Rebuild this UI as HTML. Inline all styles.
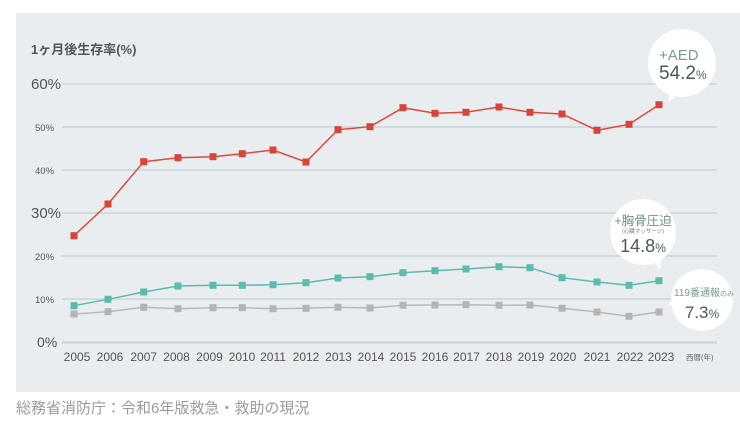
<!DOCTYPE html>
<html><head><meta charset="utf-8"><style>
html,body{margin:0;padding:0;background:#fff;}
svg{display:block;}
text{font-family:"Liberation Sans","Noto Sans CJK JP",sans-serif;}
</style></head><body>
<svg width="740" height="430" viewBox="0 0 740 430" xmlns="http://www.w3.org/2000/svg">
<rect x="16" y="13" width="724" height="379" fill="#e9edef"/>
<g stroke="#cfdcdf" stroke-width="2">
<line x1="62" y1="84" x2="717" y2="84"/>
<line x1="62" y1="127" x2="717" y2="127"/>
<line x1="62" y1="170" x2="717" y2="170"/>
<line x1="62" y1="213" x2="717" y2="213"/>
<line x1="62" y1="256" x2="717" y2="256"/>
<line x1="62" y1="299" x2="717" y2="299"/>
</g>
<line x1="62" y1="342.5" x2="717" y2="342.5" stroke="#bfd3d3" stroke-width="2"/>
<text x="31" y="54" font-size="13" fill="#555" font-weight="bold">1ヶ月後生存率(%)</text>
<g fill="#555">
<text x="31" y="89" font-size="15">60%</text>
<text x="35" y="131" font-size="9.5" transform="translate(0,0)">50%</text>
<text x="35" y="174" font-size="9.5">40%</text>
<text x="31" y="218" font-size="15">30%</text>
<text x="35" y="260" font-size="9.5">20%</text>
<text x="35" y="303" font-size="9.5">10%</text>
<text x="37" y="347" font-size="14">0%</text>
</g>
<g font-size="12" fill="#555" text-anchor="middle">
<text x="77" y="361">2005</text><text x="110" y="361">2006</text><text x="143.7" y="361">2007</text>
<text x="176.5" y="361">2008</text><text x="209.5" y="361">2009</text><text x="242" y="361">2010</text>
<text x="273" y="361">2011</text><text x="306" y="361">2012</text><text x="338.5" y="361">2013</text>
<text x="371" y="361">2014</text><text x="403" y="361">2015</text><text x="435" y="361">2016</text>
<text x="466.5" y="361">2017</text><text x="499" y="361">2018</text><text x="531" y="361">2019</text>
<text x="563" y="361">2020</text><text x="597" y="361">2021</text><text x="630" y="361">2022</text>
<text x="661" y="361">2023</text>
</g>
<text x="686" y="360" font-size="7.5" fill="#666">西暦(年)</text>

<!-- gray series -->
<polyline fill="none" stroke="#b9b9b9" stroke-width="1.5" points="74,314 108,311.7 143.7,307.3 178,308.7 213,307.7 242.3,307.7 273,308.7 306,308.3 338,307.3 370,308 403,305.3 435,305 466,304.7 499,305.3 530,305 562,308.3 597,312 629,316.3 659,312"/>
<g fill="#b4b4b4">
<rect x="70.5" y="310.5" width="7" height="7"/><rect x="104.5" y="308.2" width="7" height="7"/><rect x="140.2" y="303.8" width="7" height="7"/><rect x="174.5" y="305.2" width="7" height="7"/><rect x="209.5" y="304.2" width="7" height="7"/><rect x="238.8" y="304.2" width="7" height="7"/><rect x="269.5" y="305.2" width="7" height="7"/><rect x="302.5" y="304.8" width="7" height="7"/><rect x="334.5" y="303.8" width="7" height="7"/><rect x="366.5" y="304.5" width="7" height="7"/><rect x="399.5" y="301.8" width="7" height="7"/><rect x="431.5" y="301.5" width="7" height="7"/><rect x="462.5" y="301.2" width="7" height="7"/><rect x="495.5" y="301.8" width="7" height="7"/><rect x="526.5" y="301.5" width="7" height="7"/><rect x="558.5" y="304.8" width="7" height="7"/><rect x="593.5" y="308.5" width="7" height="7"/><rect x="625.5" y="312.8" width="7" height="7"/><rect x="655.5" y="308.5" width="7" height="7"/>
</g>

<!-- teal series -->
<polyline fill="none" stroke="#5dbaae" stroke-width="1.5" points="74,305.7 108,299.3 143.7,292 178,286 213,285.3 242.3,285.3 273,284.7 306,282.7 338,278 370,276.7 403,272.7 435,270.7 466,269 499,266.7 530,267.7 562,277.7 597,282 629,285.3 659,280.7"/>
<g fill="#5bbbad">
<rect x="70.5" y="302.2" width="7" height="7"/><rect x="104.5" y="295.8" width="7" height="7"/><rect x="140.2" y="288.5" width="7" height="7"/><rect x="174.5" y="282.5" width="7" height="7"/><rect x="209.5" y="281.8" width="7" height="7"/><rect x="238.8" y="281.8" width="7" height="7"/><rect x="269.5" y="281.2" width="7" height="7"/><rect x="302.5" y="279.2" width="7" height="7"/><rect x="334.5" y="274.5" width="7" height="7"/><rect x="366.5" y="273.2" width="7" height="7"/><rect x="399.5" y="269.2" width="7" height="7"/><rect x="431.5" y="267.2" width="7" height="7"/><rect x="462.5" y="265.5" width="7" height="7"/><rect x="495.5" y="263.2" width="7" height="7"/><rect x="526.5" y="264.2" width="7" height="7"/><rect x="558.5" y="274.2" width="7" height="7"/><rect x="593.5" y="278.5" width="7" height="7"/><rect x="625.5" y="281.8" width="7" height="7"/><rect x="655.5" y="277.2" width="7" height="7"/>
</g>

<!-- red series -->
<polyline fill="none" stroke="#dc4a3e" stroke-width="1.5" points="74,235.7 108,204 143.7,161.7 178,157.7 213,156.7 242.3,153.7 273,150 306,162 338,129.7 370,126.7 403,107.7 435,113.3 466,112.3 499,107 530,112.3 562,114 597,130.3 629,124.3 659,104.7"/>
<g fill="#d9443a">
<rect x="70.5" y="232.2" width="7" height="7"/><rect x="104.5" y="200.5" width="7" height="7"/><rect x="140.2" y="158.2" width="7" height="7"/><rect x="174.5" y="154.2" width="7" height="7"/><rect x="209.5" y="153.2" width="7" height="7"/><rect x="238.8" y="150.2" width="7" height="7"/><rect x="269.5" y="146.5" width="7" height="7"/><rect x="302.5" y="158.5" width="7" height="7"/><rect x="334.5" y="126.2" width="7" height="7"/><rect x="366.5" y="123.2" width="7" height="7"/><rect x="399.5" y="104.2" width="7" height="7"/><rect x="431.5" y="109.8" width="7" height="7"/><rect x="462.5" y="108.8" width="7" height="7"/><rect x="495.5" y="103.5" width="7" height="7"/><rect x="526.5" y="108.8" width="7" height="7"/><rect x="558.5" y="110.5" width="7" height="7"/><rect x="593.5" y="126.8" width="7" height="7"/><rect x="625.5" y="120.8" width="7" height="7"/><rect x="655.5" y="101.2" width="7" height="7"/>
</g>

<!-- AED bubble -->
<circle cx="682" cy="63" r="34" fill="#fff"/>
<polygon points="668,90 678,94 669,102" fill="#fff"/>
<text x="659" y="60" font-size="15" fill="#7c9995">+AED</text>
<text x="659" y="79" font-size="19" fill="#4b5a5a">54.2<tspan font-size="12">%</tspan></text>

<!-- chest compression bubble -->
<circle cx="643" cy="232" r="33" fill="#fff"/>
<polygon points="650,258 662,256 660,269" fill="#fff"/>
<text x="643" y="225" font-size="12.5" fill="#6f8f8a" text-anchor="middle">+胸骨圧迫</text>
<text x="643" y="233" font-size="5.5" fill="#777" text-anchor="middle">(心臓マッサージ)</text>
<text x="643" y="252" font-size="18" fill="#4b5a5a" text-anchor="middle">14.8<tspan font-size="12">%</tspan></text>

<!-- 119 bubble -->
<circle cx="702" cy="300" r="31" fill="#fff"/>
<polygon points="675,297 668,305 680,309" fill="#fff"/>
<text x="674" y="296" font-size="10" fill="#7c9995">119番通報<tspan font-size="7">のみ</tspan></text>
<text x="702" y="318" font-size="17" fill="#4b5a5a" text-anchor="middle">7.3<tspan font-size="12">%</tspan></text>

<text x="16" y="413" font-size="15" fill="#9a9a9a">総務省消防庁：令和6年版救急・救助の現況</text>
</svg>
</body></html>
